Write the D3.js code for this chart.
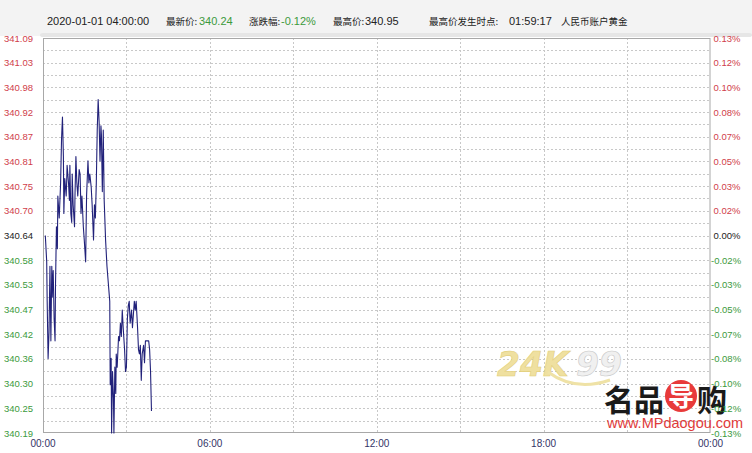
<!DOCTYPE html>
<html><head><meta charset="utf-8">
<script src="https://cdn.jsdelivr.net/npm/d3@7"></script>
<style>html,body{margin:0;padding:0;background:#fff;}svg{display:block;}</style>
</head><body>
<script>
// ---- data ----
const minutes = [5,8,9,11,13,15,17,19,20,22,24,26,27,29,31,32,35,38,40,42,44,45,47,50,51,52,55,57,58,60,62,63,65,68,69,71,73,75,78,80,82,84,87,89,92,94,97,99,101,104,106,109,111,113,115,117,119,121,123,125,126,128,130,132,135,138,141,144,145,147,148,150,152,153,155,157,158,160,163,165,167,169,171,173,176,178,180,182,184,186,188,191,193,195,197,199,201,204,206,208,210,212,214,217,219,221,225,228,230,232,234];
const prices = [340.64,340.58,340.49,340.36,340.42,340.57,340.40,340.57,340.50,340.56,340.45,340.40,340.53,340.66,340.61,340.73,340.68,340.76,340.86,340.91,340.82,340.69,340.77,340.73,340.76,340.80,340.76,340.72,340.80,340.69,340.67,340.78,340.71,340.66,340.73,340.82,340.76,340.73,340.79,340.78,340.69,340.73,340.66,340.63,340.58,340.73,340.81,340.76,340.78,340.75,340.71,340.63,340.71,340.68,340.76,340.88,340.95,340.90,340.81,340.89,340.87,340.74,340.88,340.72,340.63,340.57,340.53,340.49,340.30,340.36,340.19,340.33,340.27,340.19,340.34,340.28,340.37,340.34,340.41,340.40,340.44,340.41,340.47,340.43,340.38,340.33,340.34,340.45,340.48,340.49,340.44,340.47,340.43,340.46,340.49,340.47,340.49,340.43,340.38,340.37,340.39,340.31,340.37,340.39,340.35,340.40,340.40,340.40,340.38,340.33,340.24];
const priceLabels = ["341.09","341.03","340.98","340.92","340.87","340.81","340.75","340.70","340.64","340.58","340.53","340.47","340.42","340.36","340.30","340.25","340.19"];
const pctLabels = ["0.13%","0.12%","0.10%","0.08%","0.07%","0.05%","0.03%","0.02%","0.00%","-0.02%","-0.03%","-0.05%","-0.07%","-0.08%","-0.10%","-0.12%","-0.13%"];
const timeLabels = ["00:00","06:00","12:00","18:00","00:00"];
const timeTicks = [0,360,720,1080,1440];
const basePrice = 340.64, halfRange = 0.45;

const W=752,H=453, L=43, R=710.5, T=38, B=433;
const svg = d3.select("body").append("svg").attr("width",W).attr("height",H);
const x = d3.scaleLinear().domain([0,1440]).range([L,R]);
const y = d3.scaleLinear().domain([basePrice-halfRange, basePrice+halfRange]).range([B,T]);
const step = halfRange/8;
const RED="#d0404a", GREEN="#3c9a3c", BLK="#222";
const numFont = "'Liberation Sans', Arial, sans-serif";
const cjkFont = "'Noto Sans CJK SC', sans-serif";

// header band
svg.append("rect").attr("x",0).attr("y",0).attr("width",W).attr("height",36).attr("fill","#f3f3f3");
svg.append("rect").attr("x",L-3).attr("y",33).attr("width",W-L+3).attr("height",4).attr("fill","#e6e6e6").attr("rx",3);

// plot area
svg.append("rect").attr("x",L).attr("y",T).attr("width",R-L).attr("height",B-T).attr("fill","#fff");

// horizontal grid (half steps)
const hLines = d3.range(1,32).map(k => basePrice - halfRange + k*step/2);
svg.append("g").selectAll("line").data(hLines).join("line")
  .attr("x1",L).attr("x2",R).attr("y1",d=>Math.round(y(d))+0.5).attr("y2",d=>Math.round(y(d))+0.5)
  .attr("stroke","#c8c8c8").attr("stroke-dasharray","2,2").attr("stroke-width",1);
// vertical grid every 3h
const vLines = d3.range(180,1440,180);
svg.append("g").selectAll("line").data(vLines).join("line")
  .attr("x1",d=>Math.round(x(d))+0.5).attr("x2",d=>Math.round(x(d))+0.5).attr("y1",T).attr("y2",B)
  .attr("stroke","#c8c8c8").attr("stroke-dasharray","2,2").attr("stroke-width",1);

// border
svg.append("rect").attr("x",L+0.5).attr("y",T+0.5).attr("width",R-L-1).attr("height",B-T-1)
  .attr("fill","none").attr("stroke","#a8a8a8").attr("stroke-width",1);

// watermarks
const wm = svg.append("g");
wm.append("text").attr("x",497).attr("y",376).attr("font-family","'DejaVu Sans', sans-serif").attr("font-weight","bold")
  .attr("font-style","italic").attr("font-size",33).attr("fill","#efe0a0").attr("stroke","#e3cf7a").attr("stroke-width",0.6).text("24K");
wm.append("text").attr("x",576).attr("y",376).attr("font-family","'DejaVu Sans', sans-serif").attr("font-weight","bold")
  .attr("font-style","italic").attr("font-size",33).attr("fill","#f0f0f0").attr("stroke","#c8c8c8").attr("stroke-width",0.6).text("99");
wm.append("path").attr("d","M548,372 Q575,392 610,380").attr("fill","none").attr("stroke","#efe2a6").attr("stroke-width",3);
wm.append("text").attr("x",604).attr("y",411).attr("font-family",cjkFont).attr("font-weight","bold")
  .attr("font-size",30).attr("fill","#1a1a1a").text("名品");
wm.append("circle").attr("cx",681).attr("cy",396).attr("r",16).attr("fill","#e83a3a");
wm.append("text").attr("x",681).attr("y",406).attr("text-anchor","middle").attr("font-family",cjkFont).attr("font-weight","bold")
  .attr("font-size",26).attr("fill","#fff").text("导");
wm.append("text").attr("x",697).attr("y",411).attr("font-family",cjkFont).attr("font-weight","bold")
  .attr("font-size",30).attr("fill","#1a1a1a").text("购");
wm.append("text").attr("x",607).attr("y",428).attr("font-family",numFont)
  .attr("font-size",14.5).attr("fill","#e03a3a").text("www.MPdaogou.com");

// price line
const line = d3.line().x((d,i)=>x(minutes[i])).y(d=>y(d));
svg.append("path").datum(prices).attr("d",line).attr("fill","none")
  .attr("stroke","#22227a").attr("stroke-width",1.1).attr("stroke-linejoin","round");

// left price labels
svg.append("g").selectAll("text").data(priceLabels).join("text")
  .attr("x",4).attr("y",(d,i)=>y(basePrice+(8-i)*step)+3.5)
  .attr("font-family",numFont).attr("font-size",9.5)
  .attr("fill",(d,i)=>i<8?RED:(i===8?BLK:GREEN)).text(d=>d);
// right pct labels
svg.append("g").selectAll("text").data(pctLabels).join("text")
  .attr("x",(d,i)=>i>8?711:713.5).attr("y",(d,i)=>y(basePrice+(8-i)*step)+3.5)
  .attr("font-family",numFont).attr("font-size",9.5)
  .attr("fill",(d,i)=>i<8?RED:(i===8?BLK:GREEN)).text(d=>d);
// time labels
svg.append("g").selectAll("text").data(timeLabels).join("text")
  .attr("x",(d,i)=>x(timeTicks[i])).attr("y",447).attr("text-anchor","middle")
  .attr("font-family",numFont).attr("font-size",10).attr("fill","#333366").text(d=>d);

// header texts
const hy = 25;
const hdr = [
  {t:"2020-01-01 04:00:00", x:47, f:numFont, c:"#222", s:11},
  {t:"最新价:", x:166, f:cjkFont, c:"#222", s:9.5},
  {t:"340.24", x:199, f:numFont, c:GREEN, s:11},
  {t:"涨跌幅:", x:249, f:cjkFont, c:"#222", s:9.5},
  {t:"-0.12%", x:281, f:numFont, c:GREEN, s:11},
  {t:"最高价:", x:333, f:cjkFont, c:"#222", s:9.5},
  {t:"340.95", x:365, f:numFont, c:"#222", s:11},
  {t:"最高价发生时点:", x:429, f:cjkFont, c:"#222", s:9.5},
  {t:"01:59:17", x:509, f:numFont, c:"#222", s:11},
  {t:"人民币账户黄金", x:561, f:cjkFont, c:"#222", s:9.5}
];
svg.append("g").selectAll("text").data(hdr).join("text")
  .attr("x",d=>d.x).attr("y",hy).attr("font-family",d=>d.f).attr("font-size",d=>d.s)
  .attr("fill",d=>d.c).text(d=>d.t);
</script>
</body></html>
